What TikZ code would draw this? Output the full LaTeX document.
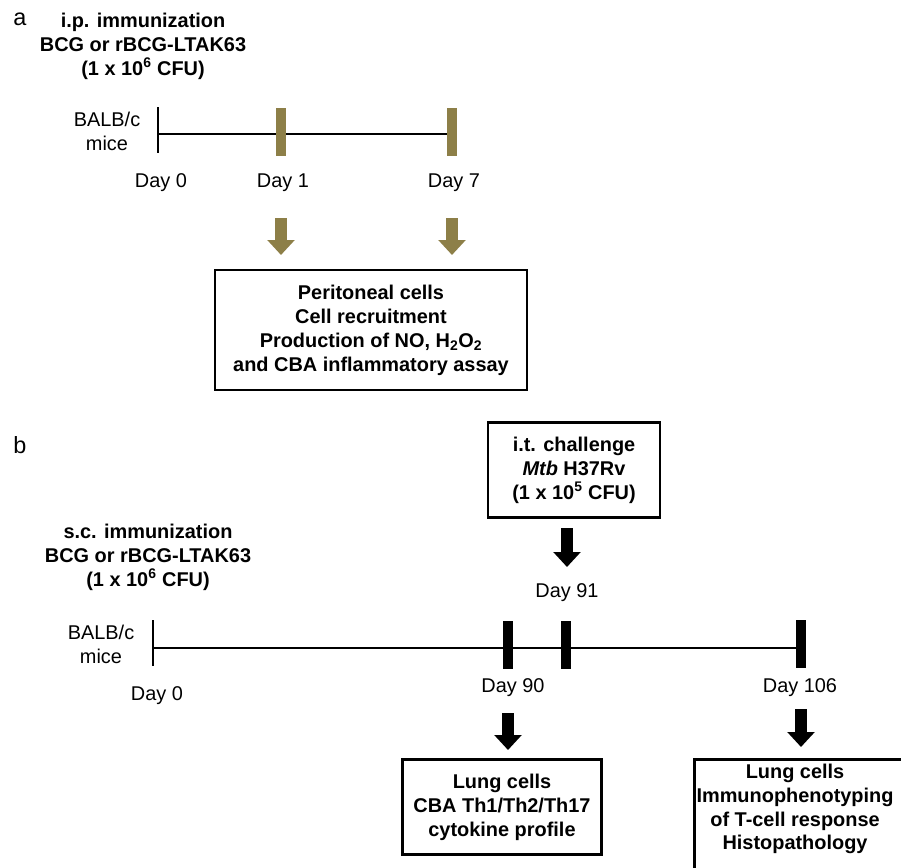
\documentclass[tikz,border=0pt]{standalone}
\usepackage{fontspec}
\setmainfont{Liberation Sans}
\usepackage{tikz}
\usetikzlibrary{positioning}
\usetikzlibrary{arrows.meta}
\definecolor{khaki}{RGB}{141,127,72}

\begin{document}
\begin{tikzpicture}[x=0.03cm, y=-0.03cm,
  every node/.style={font=\fontsize{17}{20.4}\selectfont},
  title/.style={align=center, font=\fontsize{17}{20.4}\selectfont\bfseries},
  resultbox/.style={draw, rectangle, line width=2.4pt, align=center, font=\fontsize{17}{20.4}\selectfont\bfseries},
  axis/.style={line width=1.2pt},
  daybar/.style={rectangle, minimum width=0.3cm, minimum height=1.43cm, inner sep=0pt},
  fatarrow/.style={line width=0.36cm, -{Triangle[width=0.8cm, length=0.45cm]}}]
\useasboundingbox (0,0) rectangle (901,867);

\node at (20,19) [name=labA, font=\fontsize{20}{24}\selectfont]{a};
\node at (143,46) [title, name=titleA]{i.p. immunization\\BCG or rBCG-LTAK63\\(1 x 10\textsuperscript{6} CFU)};
\node at (107,131) [align=center, name=miceA]{BALB/c\\mice};
\coordinate (startA) at (158,134);
\coordinate (endA) at (452,134);
\draw[axis] (158,107) -- (158,153);
\draw[axis] (startA) -- (endA);
\node at (281,132) [daybar, fill=khaki, name=barA1]{};
\node at (452,132) [daybar, fill=khaki, name=barA7]{};
\node at (161,183) [name=dA0]{Day 0};
\node at (283,183) [name=dA1]{Day 1};
\node at (454,183) [name=dA7]{Day 7};
\node at (371,330) [resultbox, minimum width=9.36cm, minimum height=3.6cm, name=boxA]{Peritoneal cells\\Cell recruitment\\Production of NO, H\textsubscript{2}O\textsubscript{2}\\and CBA inflammatory assay};
\coordinate (arA1s) at (281,218);
\coordinate (arA1e) at (281,255);
\coordinate (arA7s) at (452,218);
\coordinate (arA7e) at (452,255);
\draw[fatarrow, khaki] (arA1s) -- (arA1e);
\draw[fatarrow, khaki] (arA7s) -- (arA7e);

\node at (20,445) [name=labB, font=\fontsize{20}{24}\selectfont]{b};
\node at (148,557) [title, name=titleB]{s.c. immunization\\BCG or rBCG-LTAK63\\(1 x 10\textsuperscript{6} CFU)};
\node at (574,470) [resultbox, minimum width=5.16cm, minimum height=2.85cm, name=boxIT]{i.t. challenge\\\textit{Mtb} H37Rv\\(1 x 10\textsuperscript{5} CFU)};
\coordinate (arITs) at (567,528);
\coordinate (arITe) at (567,567);
\draw[fatarrow] (arITs) -- (arITe);
\node at (567,593) [name=dB91]{Day 91};
\node at (101,644) [align=center, name=miceB]{BALB/c\\mice};
\coordinate (startB) at (153,648);
\coordinate (endB) at (801,648);
\draw[axis] (153,620) -- (153,666);
\draw[axis] (startB) -- (endB);
\node at (508,645) [daybar, fill=black, name=barB90]{};
\node at (566,645) [daybar, fill=black, name=barB91]{};
\node at (801,644) [daybar, fill=black, name=barB106]{};
\node at (157,696) [name=dB0]{Day 0};
\node at (513,688) [name=dB90]{Day 90};
\node at (800,688) [name=dB106]{Day 106};
\coordinate (arB90s) at (508,713);
\coordinate (arB90e) at (508,750);
\coordinate (arB106s) at (801,709);
\coordinate (arB106e) at (801,747);
\draw[fatarrow] (arB90s) -- (arB90e);
\draw[fatarrow] (arB106s) -- (arB106e);
\node at (502,807) [resultbox, minimum width=5.97cm, minimum height=2.85cm, name=boxB1]{Lung cells\\CBA Th1/Th2/Th17\\cytokine profile};
\node at (693,758) [anchor=north west, resultbox, minimum width=6.6cm, minimum height=3.5cm, name=boxB2]{};
\node at (795,809) [title, name=txtB2]{Lung cells\\Immunophenotyping\\of T-cell response\\Histopathology};
\end{tikzpicture}
\end{document}
